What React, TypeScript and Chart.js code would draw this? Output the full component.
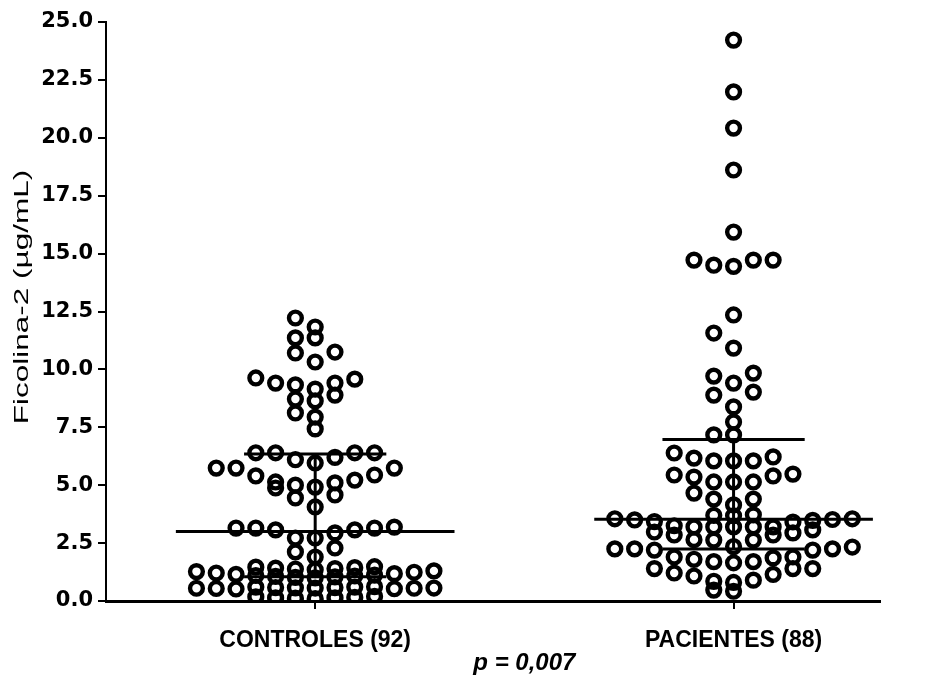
import React, { useEffect, useRef } from 'react';
import { Chart, registerables } from 'chart.js';

Chart.register(...registerables);

// ---- data ----
const categories = ['CONTROLES (92)', 'PACIENTES (88)'];
const yTickStep = 2.5;
const yMin = 0;
const yMax = 25;
const yTitle = 'Ficolina-2 (µg/mL)';
const pValueText = 'p = 0,007';

const controles = [
  12.22, 11.83, 11.36, 11.36, 10.75, 10.71, 10.32, 9.63, 9.58, 9.41, 9.41, 9.33, 9.15,
  8.89, 8.72, 8.64, 8.12, 7.94, 7.43,
  6.4, 6.4, 6.4, 6.4, 6.2, 6.1, 5.96,
  5.74, 5.74, 5.74, 5.44, 5.4, 5.22, 5.14, 5.1, 5.0, 4.92, 4.88, 4.58, 4.45, 4.06,
  3.19, 3.15, 3.15, 3.15, 3.07, 3.07, 2.94, 2.72, 2.72, 2.29, 2.12, 1.9,
  1.48, 1.46, 1.44, 1.42, 1.4, 1.38, 1.35,
  1.3, 1.27, 1.24, 1.21, 1.18, 1.15, 1.12, 1.1, 1.08, 1.06, 1.04, 1.02, 1.0,
  0.62, 0.6, 0.6, 0.58, 0.58, 0.57, 0.56, 0.56, 0.55, 0.55, 0.54, 0.53, 0.52,
  0.2, 0.18, 0.16, 0.14, 0.14, 0.12, 0.1,
];

const pacientes = [
  24.22, 21.98, 20.42, 18.61, 15.93,
  14.72, 14.72, 14.72, 14.5, 14.45,
  12.35, 11.57, 10.92,
  9.84, 9.71, 9.41, 9.02, 8.89, 8.38,
  7.73, 7.17, 7.17,
  6.39, 6.22, 6.17, 6.05, 6.05, 6.05,
  5.48, 5.44, 5.4, 5.35, 5.14, 5.14, 5.14,
  4.66, 4.4, 4.4, 4.15,
  3.72, 3.7, 3.68, 3.55, 3.55, 3.52, 3.5, 3.48, 3.43, 3.41, 3.25,
  3.2, 3.2, 3.2, 3.2, 3.2, 3.07, 2.98, 2.94, 2.85, 2.85, 2.65, 2.63, 2.63,
  2.35, 2.33, 2.25, 2.25, 2.25, 2.2, 2.2, 1.9, 1.9, 1.86, 1.8, 1.7, 1.7, 1.65,
  1.4, 1.4, 1.4, 1.21, 1.15, 1.08, 0.9, 0.85, 0.8, 0.47, 0.42,
];

const groups = [controles, pacientes];

// ---- helpers ----
function quantile(values: number[], p: number): number {
  const s = [...values].sort((a, b) => a - b);
  const n = s.length;
  const pos = (n + 1) * p;
  const lo = Math.floor(pos);
  const frac = pos - lo;
  const a = s[Math.min(n - 1, Math.max(0, lo - 1))];
  const b = s[Math.min(n - 1, Math.max(0, lo))];
  return a + (b - a) * frac;
}

// Prism-like scatter spreading: values are grouped into horizontal bands,
// the points of a band are spread over columns (centre first, alternating),
// wrapping back to the centre when the band holds more than the allowed columns.
function bandLayout(
  values: number[],
  center: number,
  colW: number,
  bandH: number,
  bandOrigin: number,
  maxCol: number,
) {
  const bands = new Map<number, number[]>();
  values.forEach((v) => {
    const b = Math.floor((v - bandOrigin) / bandH + 1e-6);
    if (!bands.has(b)) bands.set(b, []);
    bands.get(b)!.push(v);
  });
  const seq: number[] = [0];
  for (let k = 1; k <= maxCol; k++) seq.push(-k, k);
  const pts: { x: number; y: number }[] = [];
  bands.forEach((arr) => {
    arr.sort((a, b) => a - b);
    arr.forEach((v, j) => {
      const c = seq[j % seq.length];
      pts.push({ x: center + c * colW, y: v });
    });
  });
  return pts;
}

export default function App() {
  const canvasRef = useRef<HTMLCanvasElement | null>(null);

  useEffect(() => {
    document.body.style.margin = '0';
    const canvas = canvasRef.current;
    if (!canvas) return;

    const xMin = 0.5;
    const xMax = 2.35;
    const colW = 0.0473;
    const medHalf = 0.333;
    const capHalf = 0.17;

    const datasets: any[] = [];
    groups.forEach((vals, gi) => {
      const cx = gi + 1;
      datasets.push({
        label: categories[gi],
        data: bandLayout(vals, cx, colW, 0.85, 0.65, 6),
        pointStyle: 'circle',
        pointRadius: 6.4,
        pointBorderWidth: 4.4,
        pointBorderColor: '#000',
        pointBackgroundColor: 'rgba(0,0,0,0)',
        showLine: false,
      });
      const med = quantile(vals, 0.5);
      const q1 = quantile(vals, 0.25);
      const q3 = quantile(vals, 0.75);
      const seg = (pts: { x: number; y: number }[]) => ({
        data: pts,
        showLine: true,
        borderColor: '#000',
        borderWidth: 3,
        pointRadius: 0,
        fill: false,
      });
      datasets.push(seg([{ x: cx - medHalf, y: med }, { x: cx + medHalf, y: med }]));
      datasets.push(seg([{ x: cx - capHalf, y: q3 }, { x: cx + capHalf, y: q3 }]));
      datasets.push(seg([{ x: cx - capHalf, y: q1 }, { x: cx + capHalf, y: q1 }]));
      datasets.push(seg([{ x: cx, y: q1 }, { x: cx, y: q3 }]));
    });

    const textPlugin = {
      id: 'extraTexts',
      afterDraw(chart: any) {
        const ctx = chart.ctx as CanvasRenderingContext2D;
        const xs = chart.scales.x;
        ctx.save();
        ctx.fillStyle = '#000';
        // y axis title (wide lettering, as in the reference)
        ctx.font = '21px "Liberation Sans", Arial, sans-serif';
        ctx.textAlign = 'center';
        ctx.textBaseline = 'middle';
        ctx.translate(22, 297);
        ctx.rotate(-Math.PI / 2);
        ctx.scale(1.5, 1);
        ctx.fillText(yTitle, 0, 0);
        ctx.restore();

        ctx.save();
        ctx.fillStyle = '#000';
        ctx.font = 'italic bold 24px "Liberation Sans", Arial, sans-serif';
        ctx.textAlign = 'center';
        ctx.textBaseline = 'middle';
        ctx.fillText(pValueText, xs.getPixelForValue(1.5), 663);
        ctx.restore();
      },
    };

    const chart = new Chart(canvas, {
      type: 'scatter',
      data: { datasets },
      options: {
        animation: false,
        responsive: false,
        devicePixelRatio: 1,
        layout: { padding: { top: 22, right: 49, left: 0, bottom: 0 } },
        plugins: { legend: { display: false }, tooltip: { enabled: false } },
        scales: {
          x: {
            type: 'linear',
            min: xMin,
            max: xMax,
            afterBuildTicks: (scale: any) => {
              scale.ticks = categories.map((_, i) => ({ value: i + 1 }));
            },
            afterFit: (scale: any) => {
              scale.height = 78;
            },
            ticks: {
              autoSkip: false,
              maxRotation: 0,
              padding: 18,
              color: '#000',
              font: { family: '"Liberation Sans", Arial, sans-serif', size: 23, weight: 'bold' },
              callback: (v: any) => categories[Math.round(Number(v)) - 1] ?? '',
            },
            grid: {
              display: true,
              drawOnChartArea: false,
              drawTicks: true,
              tickLength: 8,
              color: '#000',
              lineWidth: 2,
            },
            border: { display: true, color: '#000', width: 3 },
          },
          y: {
            type: 'linear',
            min: yMin,
            max: yMax,
            afterFit: (scale: any) => {
              scale.width = 106;
            },
            ticks: {
              stepSize: yTickStep,
              padding: 5,
              color: '#000',
              font: { family: '"DejaVu Sans", sans-serif', size: 21, weight: 'bold' },
              callback: (v: any) => Number(v).toFixed(1),
            },
            grid: {
              display: true,
              drawOnChartArea: false,
              drawTicks: true,
              tickLength: 8,
              color: '#000',
              lineWidth: 2,
            },
            border: { display: true, color: '#000', width: 2 },
          },
        },
      } as any,
      plugins: [textPlugin],
    });

    return () => chart.destroy();
  }, []);

  return (
    <div style={{ width: 929, height: 679, background: '#fff' }}>
      <canvas ref={canvasRef} width={929} height={679} style={{ display: 'block' }} />
    </div>
  );
}
